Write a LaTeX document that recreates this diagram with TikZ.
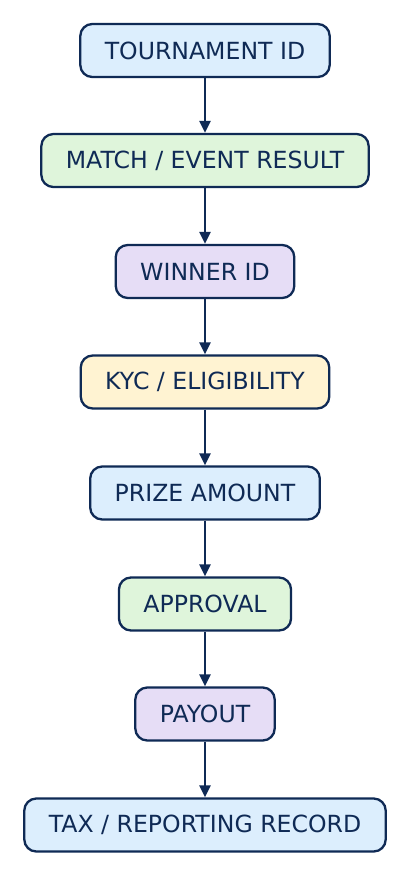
\documentclass[tikz,border=0pt]{standalone}
\usepackage{fontspec}
\setmainfont{DejaVu Sans}
\usetikzlibrary{arrows.meta}
\definecolor{navy}{HTML}{0F2A55}
\definecolor{fblue}{HTML}{DCEEFD}
\definecolor{fgreen}{HTML}{DFF5DB}
\definecolor{fpurple}{HTML}{E6DDF6}
\definecolor{fyellow}{HTML}{FFF3D2}
\tikzset{
  box/.style={draw=navy, line width=2.3pt, rounded corners=12pt, minimum height=53pt,
    inner xsep=24.5pt, inner ysep=0pt, text=navy, font=\fontsize{23.6}{28}\selectfont},
  conn/.style={draw=navy, line width=2.3pt, -{Triangle[length=12pt,width=11pt]}}
}
\begin{document}
\begin{tikzpicture}[x=1pt,y=-1pt]
\useasboundingbox[fill=white] (0,0) rectangle (411,876);
\node[box, fill=fblue]   (n1) at (205,50.5) {TOURNAMENT ID};
\node[box, fill=fgreen]  (n2) at (205,160.5) {MATCH / EVENT RESULT};
\node[box, fill=fpurple] (n3) at (205,271.5) {WINNER ID};
\node[box, fill=fyellow] (n4) at (205,382) {KYC / ELIGIBILITY};
\node[box, fill=fblue]   (n5) at (205,493) {PRIZE AMOUNT};
\node[box, fill=fgreen]  (n6) at (205,604) {APPROVAL};
\node[box, fill=fpurple] (n7) at (205,714) {PAYOUT};
\node[box, fill=fblue]   (n8) at (205,825) {TAX / REPORTING RECORD};
\foreach \a/\b in {n1/n2,n2/n3,n3/n4,n4/n5,n5/n6,n6/n7,n7/n8}
  \draw[conn] (\a) -- (\b);
\end{tikzpicture}
\end{document}
